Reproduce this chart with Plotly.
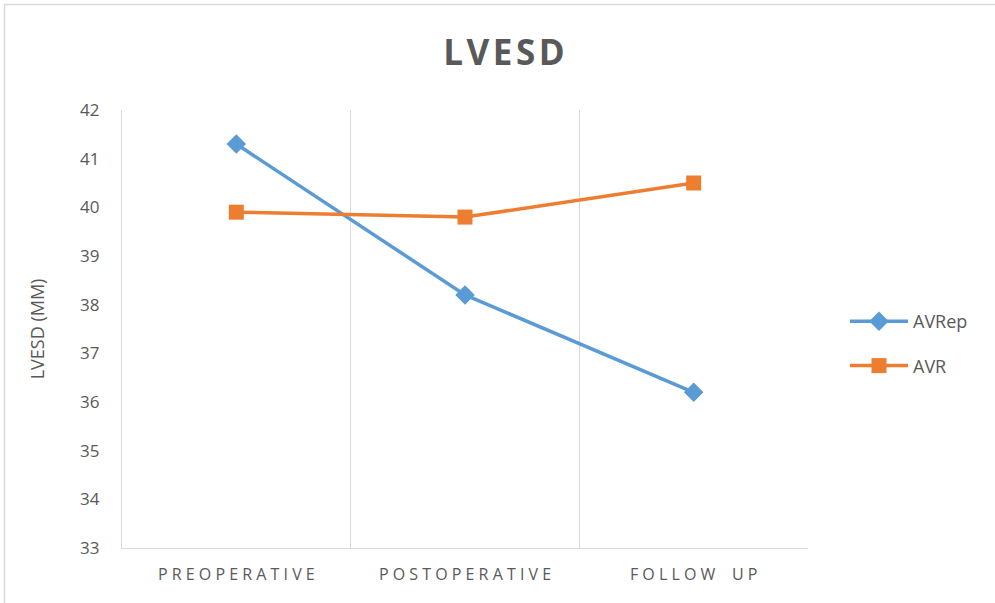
import plotly.graph_objects as go

categories = ["PREOPERATIVE", "POSTOPERATIVE", "FOLLOW UP"]
avrep = [41.3, 38.2, 36.2]
avr = [39.9, 39.8, 40.5]
y_ticks = [33, 34, 35, 36, 37, 38, 39, 40, 41, 42]

W, H = 995, 603
L, R, T, B = 122, 808, 110, 548

def spaced(s):
    return " ".join(list(s)).replace("   ", "    ")

fig = go.Figure()
fig.add_trace(go.Scatter(
    x=categories, y=avrep, name="AVRep", mode="lines+markers", legendgroup="a",
    line=dict(color="#5B9BD5", width=3.5),
    marker=dict(symbol="diamond", size=15, color="#5B9BD5"),
))
fig.add_trace(go.Scatter(
    x=categories, y=avr, name="AVR", mode="lines+markers", legendgroup="b",
    line=dict(color="#ED7D31", width=3.5),
    marker=dict(symbol="square", size=15, color="#ED7D31"),
))

def px_x(p):
    return (p - L) / (R - L)

def px_y(p):
    return (B - p) / (B - T)

fig.update_layout(
    width=W, height=H,
    margin=dict(l=L, r=W - R, t=T, b=H - B),
    paper_bgcolor="white", plot_bgcolor="white",
    font=dict(family="Open Sans", color="#595959"),
    title=dict(text="<b>L\u200aV\u200aE\u200aS\u200aD</b>", x=504 / W, xref="container", xanchor="center",
               y=1 - 53 / H, yanchor="middle",
               font=dict(family="Open Sans", size=35, color="#595959")),
    xaxis=dict(
        type="category", tickson="boundaries",
        tickvals=categories, ticktext=[spaced(c) for c in categories],
        showgrid=True, gridcolor="#D9D9D9", gridwidth=1.3,
        showline=True, linecolor="#D9D9D9", linewidth=1.3,
        ticks="", tickfont=dict(size=16, color="#595959"),
        ticklabelstandoff=12,
        range=[-0.5, 2.5], zeroline=False,
    ),
    yaxis=dict(
        range=[33, 42], tickvals=y_ticks, showgrid=False,
        showline=True, linecolor="#D9D9D9", linewidth=1.3,
        ticks="", ticklen=0, tickfont=dict(size=17, color="#595959"),
        ticklabelstandoff=18,
        title=dict(text="LVESD (MM)", font=dict(size=18, color="#595959"), standoff=30),
        zeroline=False,
    ),
    legend=dict(x=px_x(845), y=px_y(303), xanchor="left", yanchor="top",
                font=dict(size=18, color="#595959"), tracegroupgap=18,
                itemwidth=58, bgcolor="rgba(0,0,0,0)"),
    shapes=[dict(type="rect", xref="paper", yref="paper",
                 x0=px_x(4.5), x1=px_x(1000), y0=px_y(608), y1=px_y(4.5),
                 line=dict(color="#D9D9D9", width=1.5), layer="below")],
)

fig.write_html("out.html", config={"displayModeBar": False},
               post_script="document.body.style.margin='0';")
